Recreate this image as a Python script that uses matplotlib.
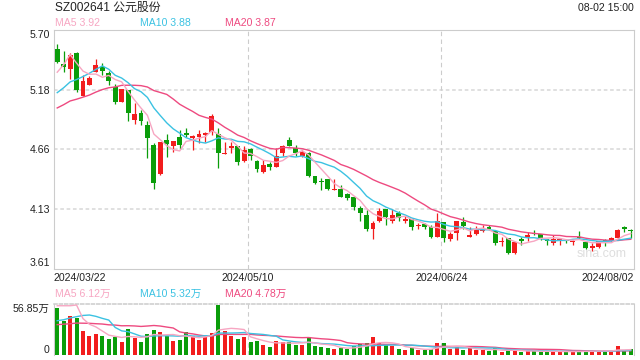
# coding: utf-8
import numpy as np
import pandas as pd
import matplotlib
matplotlib.use("Agg")
import matplotlib.pyplot as plt

plt.rcParams['font.family'] = ['Liberation Sans', 'Noto Sans CJK SC', 'DejaVu Sans']

title = "SZ002641 公元股份"
stamp = "08-02 15:00"
date_labels = ["2024/03/22", "2024/05/10", "2024/06/24", "2024/08/02"]
date_pos = [0, 30, 60, 89]
price_ticks = [3.61, 4.1325, 4.655, 5.1775, 5.70]
price_tick_labels = ["3.61", "4.13", "4.66", "5.18", "5.70"]
vol_max = 56.85

# daily candles, 2024/03/22 .. 2024/08/02
opens = [5.53, 5.40, 5.36, 5.50, 5.12, 5.22, 5.33, 5.38, 5.32, 5.20,
         5.07, 5.17, 4.91, 4.97, 4.87, 4.69, 4.44, 4.74, 4.68, 4.76,
         4.80, 4.75, 4.76, 4.78, 4.81, 4.79, 4.61, 4.67, 4.68, 4.55,
         4.66, 4.55, 4.46, 4.53, 4.50, 4.62, 4.74, 4.67, 4.60, 4.62,
         4.42, 4.38, 4.39, 4.30, 4.31, 4.26, 4.24, 4.14, 4.08, 3.96,
         4.03, 4.13, 4.03, 4.10, 4.03, 4.04, 3.98, 4.00, 3.97, 3.89,
         4.02, 3.87, 3.92, 4.02, 3.89, 3.91, 3.94, 3.97, 3.94, 3.84,
         3.88, 3.75, 3.87, 3.89, 3.92, 3.91, 3.87, 3.83, 3.86, 3.86,
         3.84, 3.89, 3.84, 3.79, 3.80, 3.86, 3.85, 3.88, 3.97, 3.95]
highs = [5.58, 5.52, 5.50, 5.51, 5.31, 5.30, 5.45, 5.41, 5.34, 5.23,
         5.18, 5.17, 5.06, 5.00, 4.90, 4.71, 4.72, 4.79, 4.73, 4.82,
         4.84, 4.78, 4.82, 4.81, 4.96, 4.84, 4.72, 4.72, 4.68, 4.68,
         4.67, 4.56, 4.56, 4.54, 4.67, 4.69, 4.76, 4.69, 4.65, 4.63,
         4.42, 4.40, 4.39, 4.39, 4.34, 4.27, 4.24, 4.16, 4.12, 4.03,
         4.14, 4.13, 4.13, 4.11, 4.07, 4.04, 4.01, 4.01, 3.99, 4.10,
         4.02, 3.93, 4.03, 4.06, 3.97, 3.98, 3.99, 3.99, 3.95, 3.89,
         3.88, 3.84, 3.89, 3.93, 3.95, 3.91, 3.87, 3.90, 3.88, 3.87,
         3.86, 3.94, 3.84, 3.83, 3.85, 3.87, 3.89, 3.96, 3.98, 3.96]
lows = [5.41, 5.33, 5.27, 5.16, 5.12, 5.22, 5.33, 5.31, 5.22, 5.05,
        5.07, 4.90, 4.88, 4.87, 4.58, 4.31, 4.43, 4.59, 4.63, 4.66,
        4.76, 4.65, 4.71, 4.72, 4.78, 4.49, 4.61, 4.62, 4.52, 4.54,
        4.56, 4.46, 4.45, 4.47, 4.50, 4.60, 4.68, 4.60, 4.59, 4.41,
        4.35, 4.30, 4.30, 4.30, 4.24, 4.21, 4.12, 4.03, 3.94, 3.87,
        4.02, 3.99, 4.01, 4.03, 4.01, 3.95, 3.96, 3.96, 3.88, 3.89,
        3.84, 3.85, 3.86, 3.96, 3.89, 3.90, 3.93, 3.95, 3.82, 3.81,
        3.74, 3.74, 3.82, 3.85, 3.90, 3.86, 3.82, 3.82, 3.82, 3.83,
        3.82, 3.87, 3.78, 3.76, 3.79, 3.81, 3.84, 3.87, 3.93, 3.88]
closes = [5.42, 5.38, 5.48, 5.17, 5.25, 5.28, 5.39, 5.34, 5.25, 5.07,
          5.18, 4.97, 4.96, 4.90, 4.75, 4.36, 4.72, 4.70, 4.73, 4.69,
          4.78, 4.77, 4.79, 4.80, 4.95, 4.62, 4.62, 4.68, 4.54, 4.65,
          4.60, 4.48, 4.52, 4.50, 4.60, 4.68, 4.68, 4.62, 4.63, 4.42,
          4.36, 4.37, 4.31, 4.31, 4.24, 4.23, 4.15, 4.10, 3.96, 4.01,
          4.11, 4.06, 4.08, 4.05, 4.04, 3.97, 3.99, 3.97, 3.89, 4.03,
          3.88, 3.91, 4.03, 3.98, 3.90, 3.96, 3.95, 3.96, 3.83, 3.85,
          3.75, 3.84, 3.85, 3.90, 3.91, 3.87, 3.85, 3.87, 3.87, 3.85,
          3.85, 3.88, 3.79, 3.81, 3.85, 3.85, 3.88, 3.95, 3.96, 3.94]
# volume in 万手
volumes = [53.8, 39.0, 44.7, 41.7, 27.7, 21.6, 23.9, 21.6, 18.2, 20.8,
           15.2, 29.6, 19.7, 15.2, 23.9, 28.4, 26.2, 21.6, 16.3, 17.1,
           26.2, 21.6, 17.1, 20.8, 25.0, 56.85, 27.3, 21.6, 18.2, 20.8,
           15.2, 16.3, 11.4, 9.5, 16.3, 15.2, 15.2, 11.4, 11.4, 20.1,
           10.6, 8.7, 8.3, 6.8, 8.3, 6.8, 10.2, 12.5, 13.3, 20.1,
           14.0, 11.4, 10.2, 6.8, 5.7, 8.3, 5.7, 5.7, 6.8, 13.6,
           13.6, 6.8, 8.7, 5.7, 8.0, 5.7, 5.7, 4.5, 7.6, 3.8,
           5.3, 5.3, 3.4, 4.5, 4.5, 3.8, 4.5, 3.8, 3.8, 3.5,
           4.2, 4.6, 4.4, 4.6, 4.8, 4.5, 4.5, 10.0, 5.0, 6.6]
# the 19 sessions before the window (only feed the moving averages)
prev_close = [4.81, 4.83, 4.86, 4.89, 4.91, 4.87, 4.90, 4.93, 4.92, 4.91,
              4.95, 4.97, 4.96, 4.99, 4.99, 5.05, 5.04, 5.54, 5.60]
prev_volume = [28, 35, 26, 31, 24, 33, 29, 36, 27, 31,
               28, 25, 26.4, 14, 16.6, 39, 44.7, 37.5, 105]

W, H = 640, 360
UP = '#f21d1d'
DOWN = '#0a9d0a'
MA_COLORS = {5: '#f7a6c2', 10: '#3bc2e2', 20: '#ee4a80'}
TXT = '#222222'
BORDER = '#cccccc'


def moving_averages(prev, values):
    s = pd.Series(list(prev) + list(values))
    return {k: s.rolling(k).mean().values[len(prev):] for k in (5, 10, 20)}


def fx(x):
    return x / W


def fy(y):
    return 1 - y / H


n = len(closes)
x = np.arange(n)
o = np.array(opens)
c = np.array(closes)
colors = [UP if cc >= oo else DOWN for oo, cc in zip(o, c)]

fig = plt.figure(figsize=(W / 100, H / 100), dpi=100)
ax = fig.add_axes([fx(54), fy(268.5), fx(580), 238.5 / H])
axv = fig.add_axes([fx(54), fy(355), fx(580), 51 / H])

# ---- price panel
ax.vlines(x, lows, highs, colors=colors, lw=0.9, zorder=3)
bottoms = np.minimum(o, c)
heights = np.maximum(np.abs(c - o), 0.006)
ax.bar(x, heights, bottom=bottoms, width=0.76, color=colors, linewidth=0, zorder=3)

ma = moving_averages(prev_close, closes)
for k in (20, 10, 5):
    ax.plot(x, ma[k], color=MA_COLORS[k], lw=1.0, zorder=4)

ax.set_xlim(-0.5, n - 0.5)
ax.set_ylim(price_ticks[0], price_ticks[-1])
ax.set_yticks(price_ticks)
ax.set_yticklabels(price_tick_labels)
ax.set_xticks([])
ax.tick_params(axis='y', length=0, pad=3, labelsize=7.6, labelcolor=TXT)
labels = ax.get_yticklabels()
labels[0].set_va('bottom')
labels[-1].set_va('top')
for yv in price_ticks[1:-1]:
    ax.axhline(yv, color='#dddddd', lw=1.3, ls=(0, (2, 1.5)), zorder=1)
for sp in ax.spines.values():
    sp.set_color(BORDER)
    sp.set_linewidth(0.8)

for p, lab in zip(date_pos, date_labels):
    if p == 0:
        xp, ha = -0.5, 'left'
    elif p == n - 1:
        xp, ha = n - 0.5, 'right'
    else:
        xp, ha = p - 0.4, 'center'
        ax.axvline(xp, color=BORDER, lw=0.8, ls=(0, (4, 3)), zorder=1)
        axv.axvline(xp, color=BORDER, lw=0.8, ls=(0, (4, 3)), zorder=1)
    ax.text(xp, -0.04, lab, transform=ax.get_xaxis_transform(), ha=ha, va='center',
            fontsize=7.6, color=TXT)

ax.text(fx(602), fy(254), 'sina.com', transform=fig.transFigure, ha='center', va='center',
        fontsize=9, color='#dedede', zorder=2)

# ---- volume panel
axv.bar(x, volumes, width=0.62, color=colors, linewidth=0, zorder=3)
vma = moving_averages(prev_volume, volumes)
for k in (20, 10, 5):
    axv.plot(x, vma[k], color=MA_COLORS[k], lw=1.0, zorder=4)
axv.set_xlim(-0.5, n - 0.5)
axv.set_ylim(0, vol_max * 1.02)
axv.set_xticks([])
axv.set_yticks([0, vol_max * 1.02])
axv.set_yticklabels(['0', '%.2f万' % vol_max])
axv.tick_params(axis='y', length=0, pad=3, labelsize=7.6, labelcolor=TXT)
vl = axv.get_yticklabels()
vl[0].set_va('bottom')
vl[-1].set_va('top')
for sp in axv.spines.values():
    sp.set_color(BORDER)
    sp.set_linewidth(0.8)
axv.spines['top'].set_linestyle((0, (2, 1.5)))
axv.spines['top'].set_linewidth(1.1)
axv.spines['bottom'].set_visible(False)

# ---- header texts
fig.text(fx(55), fy(8), title, ha='left', va='center', fontsize=8.6, color=TXT)
fig.text(fx(634), fy(8), stamp, ha='right', va='center', fontsize=7.6, color=TXT)
last = {k: ma[k][-1] for k in (5, 10, 20)}
vlast = {k: vma[k][-1] for k in (5, 10, 20)}
for k, xpix in zip((5, 10, 20), (55, 140, 225)):
    fig.text(fx(xpix), fy(23.5), 'MA%d %.2f' % (k, last[k]), ha='left', va='center',
             fontsize=7.6, color=MA_COLORS[k])
    fig.text(fx(xpix), fy(294), 'MA%d %.2f万' % (k, vlast[k]), ha='left', va='center',
             fontsize=7.6, color=MA_COLORS[k])

fig.savefig('out.png', dpi=100)
